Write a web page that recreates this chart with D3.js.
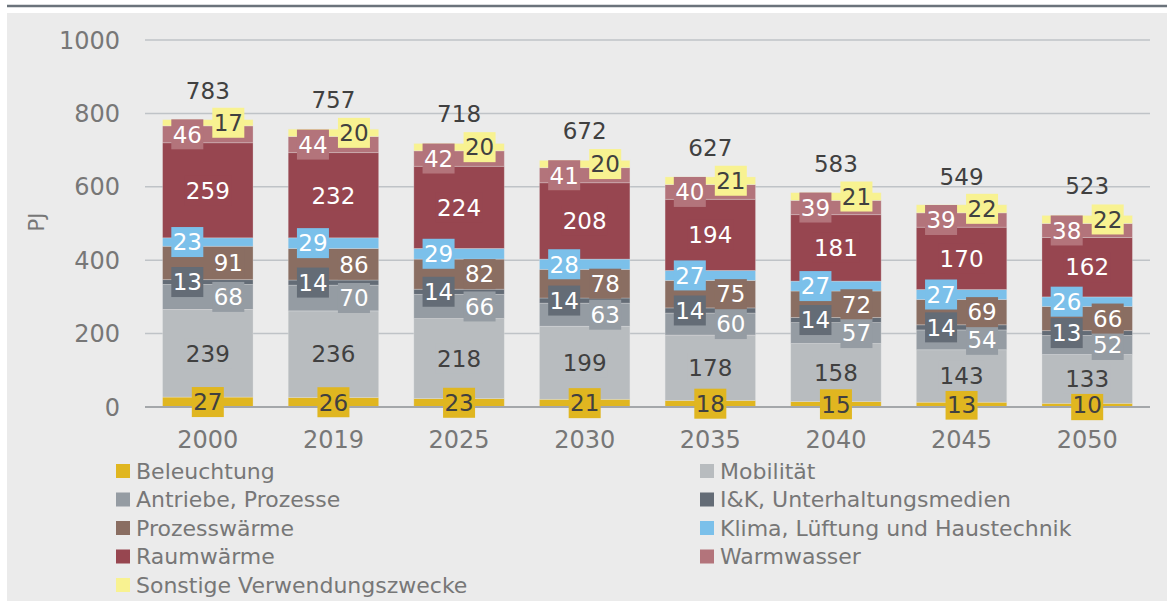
<!doctype html>
<html lang="de">
  <head>
    <meta charset="utf-8">
    <title>Endenergie nach Verwendungszweck</title>
    <script src="https://d3js.org/d3.v7.min.js"></script>
    <style>
      body { margin: 0; background: #fff; }
      svg { display: block; font-family: "DejaVu Sans", sans-serif; }
    </style>
  </head>
  <body>
    <svg width="1167" height="601"></svg>
    <script>
      var years = ["2000", "2019", "2025", "2030", "2035", "2040", "2045", "2050"];
      var beleuchtung = [27, 26, 23, 21, 18, 15, 13, 10];
      var mobilitaet = [239, 236, 218, 199, 178, 158, 143, 133];
      var antriebe = [68, 70, 66, 63, 60, 57, 54, 52];
      var iuk = [13, 14, 14, 14, 14, 14, 14, 13];
      var prozesswaerme = [91, 86, 82, 78, 75, 72, 69, 66];
      var klima = [23, 29, 29, 28, 27, 27, 27, 26];
      var raumwaerme = [259, 232, 224, 208, 194, 181, 170, 162];
      var warmwasser = [46, 44, 42, 41, 40, 39, 39, 38];
      var sonstige = [17, 20, 20, 20, 21, 21, 22, 22];
      var totals = [783, 757, 718, 672, 627, 583, 549, 523];
      var yTicks = [0, 200, 400, 600, 800, 1000];

      var series = [
        {name: "Beleuchtung", values: beleuchtung, color: "#e0b620", text: "#404040", pos: 0},
        {name: "Mobilität", values: mobilitaet, color: "#b8bcbf", text: "#404040", pos: 0},
        {name: "Antriebe, Prozesse", values: antriebe, color: "#959ca3", text: "#fff", pos: 1},
        {name: "I&K, Unterhaltungsmedien", values: iuk, color: "#646c76", text: "#fff", pos: -1},
        {name: "Prozesswärme", values: prozesswaerme, color: "#8a6e62", text: "#fff", pos: 1},
        {name: "Klima, Lüftung und Haustechnik", values: klima, color: "#7bc0ea", text: "#fff", pos: -1},
        {name: "Raumwärme", values: raumwaerme, color: "#974650", text: "#fff", pos: 0},
        {name: "Warmwasser", values: warmwasser, color: "#b3747b", text: "#fff", pos: -1},
        {name: "Sonstige Verwendungszwecke", values: sonstige, color: "#f8f291", text: "#404040", pos: 1}
      ];

      var svg = d3.select("svg");

      // background panel + top rule
      svg.append("rect").attr("x", 7).attr("y", 13).attr("width", 1160).attr("height", 588).attr("fill", "#ebebeb");
      svg.append("line").attr("x1", 7).attr("x2", 1167).attr("y1", 6).attr("y2", 6)
        .attr("stroke", "#6b737b").attr("stroke-width", 2.5);

      var x = d3.scaleBand().domain(years).range([145, 1150]).paddingInner(0.28).paddingOuter(0.14);
      var y = d3.scaleLinear().domain([0, 1000]).range([407, 40]);

      // grid
      svg.append("g").selectAll("line")
        .data(yTicks.filter(function(d) { return d > 0; }))
        .join("line")
          .attr("x1", 145).attr("x2", 1150)
          .attr("y1", function(d) { return y(d); }).attr("y2", function(d) { return y(d); })
          .attr("stroke", "#bfc3c7").attr("stroke-width", 1.5);

      svg.append("g").selectAll("text")
        .data(yTicks)
        .join("text")
          .attr("x", 120).attr("y", function(d) { return y(d); })
          .attr("dy", "0.36em").attr("text-anchor", "end")
          .attr("font-size", 24).attr("fill", "#777")
          .text(function(d) { return d; });

      svg.append("text")
        .attr("transform", "translate(36,222) rotate(-90)")
        .attr("text-anchor", "middle").attr("dy", "0.36em").attr("font-size", 21).attr("fill", "#777")
        .text("PJ");

      // stacked data
      var rows = years.map(function(yr, i) {
        var r = {year: yr};
        series.forEach(function(s) { r[s.name] = s.values[i]; });
        return r;
      });
      var stack = d3.stack().keys(series.map(function(s) { return s.name; }))(rows);

      var layers = svg.append("g").selectAll("g")
        .data(stack)
        .join("g")
          .attr("fill", function(d, i) { return series[i].color; });

      layers.selectAll("rect")
        .data(function(d) { return d; })
        .join("rect")
          .attr("x", function(d) { return x(d.data.year); })
          .attr("width", x.bandwidth())
          .attr("y", function(d) { return y(d[1]); })
          .attr("height", function(d) { return y(d[0]) - y(d[1]); })
          .attr("stroke", "#ebebeb").attr("stroke-opacity", 0.35).attr("stroke-width", 0.8);

      // axis line
      svg.append("line").attr("x1", 145).attr("x2", 1150).attr("y1", y(0)).attr("y2", y(0))
        .attr("stroke", "#a4a7aa").attr("stroke-width", 2);

      // segment labels with coloured boxes
      stack.forEach(function(layer, si) {
        var s = series[si];
        var g = svg.append("g");
        layer.forEach(function(d) {
          var cx = x(d.data.year) + x.bandwidth() / 2 + s.pos * 20.5;
          var cy = y((d[0] + d[1]) / 2);
          var label = String(d[1] - d[0]);
          var w = label.length * 14.5 + 3;
          g.append("rect")
            .attr("x", cx - w / 2).attr("y", cy - 15)
            .attr("width", w).attr("height", 30)
            .attr("fill", s.color);
          g.append("text")
            .attr("x", cx).attr("y", cy).attr("dy", "0.36em")
            .attr("text-anchor", "middle").attr("font-size", 23)
            .attr("fill", s.text)
            .text(label);
        });
      });

      // totals
      svg.append("g").selectAll("text")
        .data(totals)
        .join("text")
          .attr("x", function(d, i) { return x(years[i]) + x.bandwidth() / 2; })
          .attr("y", function(d) { return y(d) - 21; })
          .attr("text-anchor", "middle").attr("font-size", 23).attr("fill", "#404040")
          .text(function(d) { return d; });

      // x labels
      svg.append("g").selectAll("text")
        .data(years)
        .join("text")
          .attr("x", function(d) { return x(d) + x.bandwidth() / 2; })
          .attr("y", 448)
          .attr("text-anchor", "middle").attr("font-size", 24).attr("fill", "#777")
          .text(function(d) { return d; });

      // legend: two columns
      var legend = svg.append("g").selectAll("g")
        .data(series)
        .join("g")
          .attr("transform", function(d, i) {
            var col = i % 2, row = Math.floor(i / 2);
            return "translate(" + (col ? 700 : 116) + "," + (471 + row * 28.5) + ")";
          });
      legend.append("rect")
        .attr("x", 0).attr("y", -7).attr("width", 14).attr("height", 14)
        .attr("fill", function(d) { return d.color; });
      legend.append("text")
        .attr("x", 20).attr("dy", "0.36em")
        .attr("font-size", 22).attr("fill", "#777")
        .text(function(d) { return d.name; });
    </script>
  </body>
</html>
